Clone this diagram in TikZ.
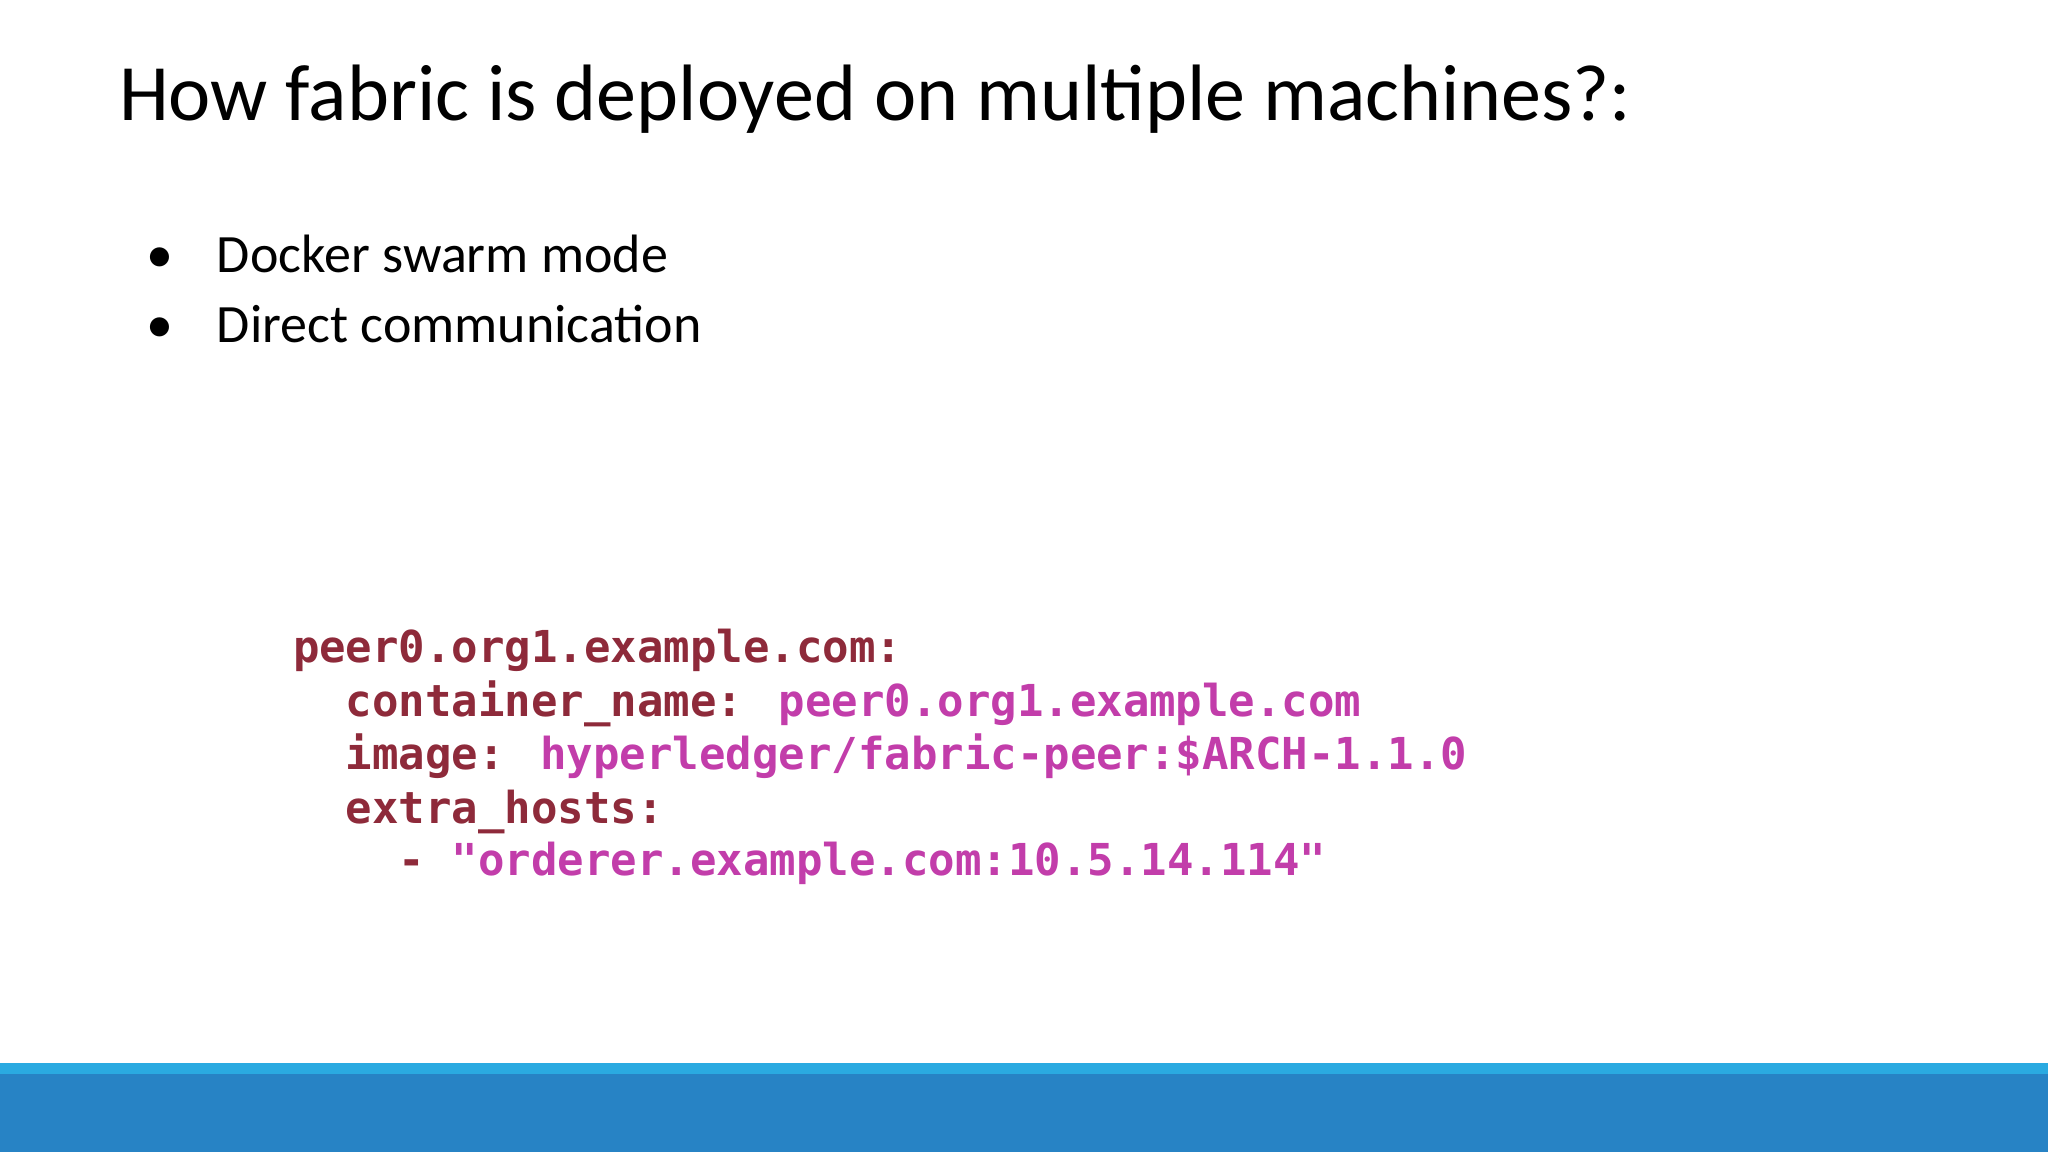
\documentclass[tikz,border=0pt]{standalone}
\usepackage{fontspec}
\setmainfont{Carlito}
\newfontfamily\codefont{DejaVu Sans Mono}
\definecolor{keyc}{HTML}{8E2A3A}
\definecolor{valc}{HTML}{C23DAA}
\definecolor{lightbar}{HTML}{2AAAE1}
\definecolor{darkbar}{HTML}{2783C5}
\begin{document}
\begin{tikzpicture}[x=1pt,y=1pt,
  txt/.style={anchor=base west,inner sep=0pt,outer sep=0pt},
  code/.style={txt,font=\codefont\bfseries\fontsize{44}{50}\selectfont}]
\useasboundingbox (0,0) rectangle (2048,-1152);
\fill[white] (0,0) rectangle (2048,-1152);
\fill[lightbar] (0,-1063) rectangle (2048,-1074);
\fill[darkbar] (0,-1074) rectangle (2048,-1152);
\node[txt,font=\fontsize{80}{90}\selectfont] (title) at (119,-120) {How fabric is deployed on multiple machines?:};
\node[txt,font=\fontsize{54}{60}\selectfont] (b1) at (146,-272) {•\hspace{44pt}Docker swarm mode};
\node[txt,font=\fontsize{54}{60}\selectfont] (b2) at (146,-342) {•\hspace{44pt}Direct communication};
\node[code,text=keyc] (l1) at (293,-662) {peer0.org1.example.com:};
\node[code] (l2) at (293,-716) {\textcolor{keyc}{\ \ container\_name:} \textcolor{valc}{peer0.org1.example.com}};
\node[code] (l3) at (293,-769) {\textcolor{keyc}{\ \ image:} \textcolor{valc}{hyperledger/fabric-peer:\$ARCH-1.1.0}};
\node[code,text=keyc] (l4) at (293,-823) {\ \ extra\_hosts:};
\node[code] (l5) at (293,-875) {\textcolor{keyc}{\ \ \ \ -} \textcolor{valc}{"orderer.example.com:10.5.14.114"}};
\end{tikzpicture}
\end{document}
